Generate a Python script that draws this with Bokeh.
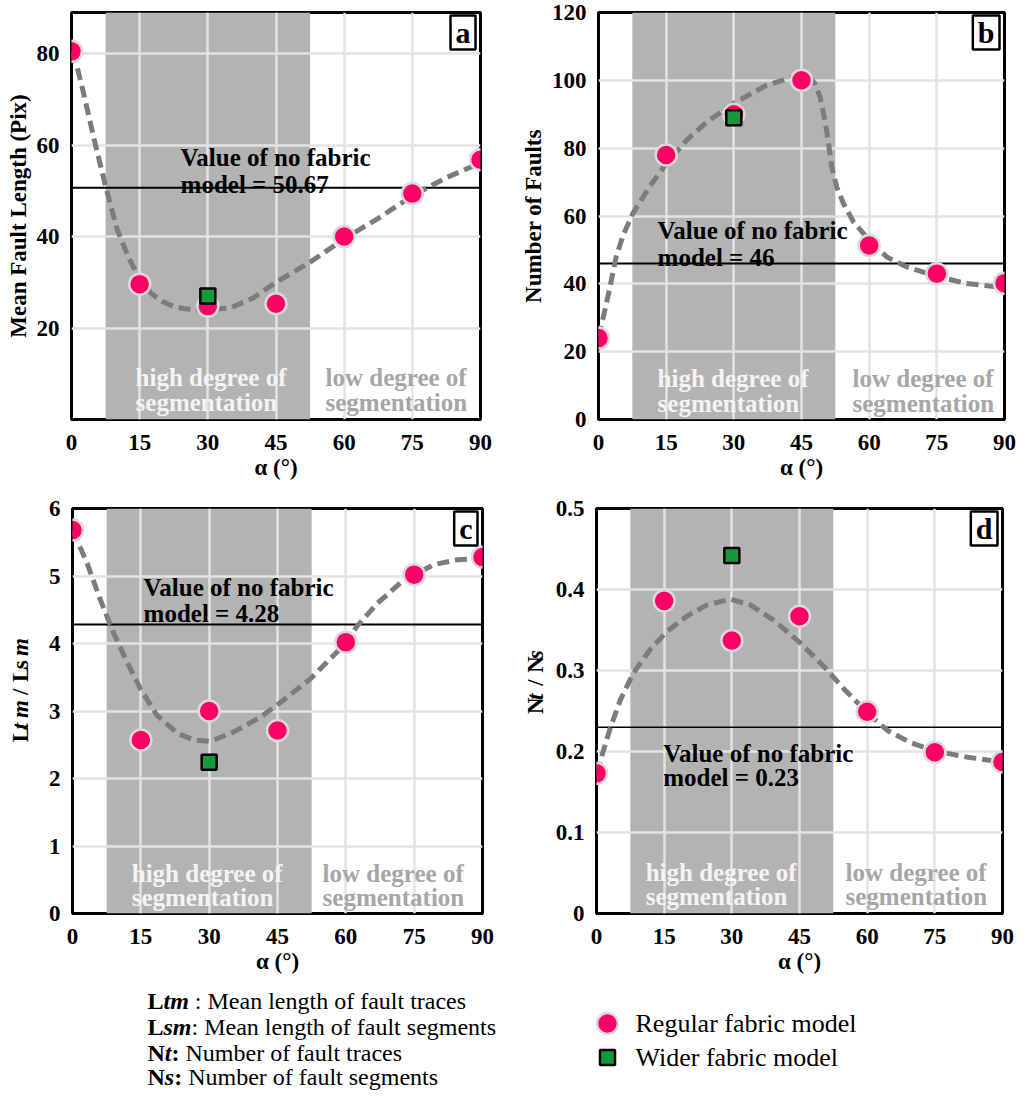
import math
from bokeh.plotting import figure
from bokeh.models import Range1d, FixedTicker, Span, Label, NumeralTickFormatter
from bokeh.layouts import column, row
from bokeh.embed import file_html
from bokeh.resources import INLINE
from bokeh.core.properties import value

# ---------------- data ----------------
alpha = [0, 15, 30, 45, 60, 75, 90]
alpha_ticks = [0, 15, 30, 45, 60, 75, 90]
band = [7.5, 52.5]          # high degree of segmentation zone
wider_alpha = [30]

# (a) mean fault length
len_regular = [80.5, 29.6, 24.8, 25.3, 40.0, 49.4, 56.8]
len_wider = [27.0]
len_nofabric = 50.67
len_curve_x = [0, 1.25, 2.5, 5, 7.5, 10, 12.5, 15, 17.5, 20, 22.5, 25, 27.5, 30, 35, 40, 45, 52.5, 60, 67.5, 75, 82.5, 90]
len_curve_y = [80.5, 77, 72, 61.2, 51, 41.7, 35.5, 30.8, 27.6, 25.8, 24.7, 24.2, 24.0, 24.0, 24.4, 26.6, 30.0, 34.4, 39.5, 44.0, 48.9, 52.9, 56.1]

# (b) number of faults
num_regular = [24.0, 78.0, 90.0, 100.0, 51.3, 43.0, 40.2]
num_wider = [89.0]
num_nofabric = 46
num_curve_x = [0, 1.2, 2.4, 3.9, 5.5, 7.6, 11.3, 15, 19.5, 24, 29.8, 37.2, 43.2, 46.5, 48, 49.1, 50.2, 50.9, 51.7, 52.8, 54.3, 56.5, 59.4, 63.9, 68.3, 75, 81.6, 90]
num_curve_y = [24.2, 31, 38.1, 47.9, 54.5, 60.7, 68.6, 75.4, 82.3, 87.7, 93.1, 98.5, 101, 101.2, 99, 95.1, 88.2, 82.3, 74.5, 68.6, 63.7, 58.3, 53.8, 47.9, 45, 42.2, 40.1, 38.9]

# (c) Ltm / Lsm
ratio_l_regular = [5.68, 2.57, 3.0, 2.71, 4.02, 5.02, 5.28]
ratio_l_wider = [2.24]
ratio_l_nofabric = 4.28
ratio_l_curve_x = [0, 3.2, 6.1, 9, 12, 14.9, 18.5, 23, 26.6, 30.3, 35.4, 41.3, 45.7, 52.3, 60, 62.5, 67, 72, 75, 79.4, 84.5, 90]
ratio_l_curve_y = [5.68, 5.19, 4.65, 4.16, 3.72, 3.33, 2.94, 2.67, 2.57, 2.55, 2.69, 2.91, 3.13, 3.48, 4.01, 4.26, 4.6, 4.9, 5.02, 5.17, 5.24, 5.26]

# (d) Nt / Ns
ratio_n_regular = [0.173, 0.386, 0.337, 0.367, 0.249, 0.199, 0.187]
ratio_n_wider = [0.442]
ratio_n_nofabric = 0.23
ratio_n_curve_x = [0, 3, 5.3, 8.2, 11.9, 15.6, 20, 24.5, 29.7, 34.1, 39.3, 45.2, 50.4, 54.9, 60, 64.5, 69.6, 74.8, 82.2, 90]
ratio_n_curve_y = [0.173, 0.228, 0.264, 0.297, 0.326, 0.348, 0.367, 0.381, 0.388, 0.381, 0.362, 0.334, 0.305, 0.277, 0.248, 0.226, 0.211, 0.201, 0.193, 0.187]

FONT = "Liberation Serif"
PINK = "#ff0066"
GREEN = "#139a3c"
BAND = "#b3b3b3"
GRID = "#e3e3e3"
AXFS = 23


def panel(width, height, borders, ymax, yticks, ylabel, letter,
          xs, regular, wider, nofab, nofab_text, cx, cy,
          vtext_pos, high_pos, low_pos, span_w=2, yfmt=None):
    bl, br, bt, bb = borders
    p = figure(width=width, height=height, title=None,
               x_range=Range1d(0, 90), y_range=Range1d(0, ymax),
               output_backend="svg", toolbar_location=None,
               min_border_left=bl, min_border_right=br,
               min_border_top=bt, min_border_bottom=bb)
    p.background_fill_color = "white"
    p.border_fill_color = "white"
    p.outline_line_color = "black"
    p.outline_line_width = 3
    p.xaxis.ticker = FixedTicker(ticks=alpha_ticks)
    p.yaxis.ticker = FixedTicker(ticks=yticks)
    if yfmt is not None:
        p.yaxis.formatter = yfmt
    for ax in p.axis:
        ax.axis_line_color = None
        ax.major_tick_line_color = None
        ax.minor_tick_line_color = None
        ax.major_label_text_font = FONT
        ax.major_label_text_font_style = "bold"
        ax.major_label_text_font_size = "%dpx" % AXFS
        ax.major_label_text_color = "black"
        ax.axis_label_text_font = FONT
        ax.axis_label_text_font_style = "bold"
        ax.axis_label_text_font_size = "%dpx" % AXFS
        ax.axis_label_text_color = "black"
    p.xaxis.major_label_standoff = 9
    p.yaxis.major_label_standoff = 6
    p.xaxis.axis_label = "α (°)"
    p.xaxis.axis_label_standoff = 2
    if ylabel:
        p.yaxis.axis_label = ylabel
        p.yaxis.axis_label_standoff = 3
    p.grid.grid_line_color = GRID
    p.grid.grid_line_width = 2.5

    p.quad(left=[band[0]], right=[band[1]], bottom=[0], top=[ymax],
           fill_color=BAND, line_color=None, level="image")

    p.add_layout(Span(location=nofab, dimension="width", line_color="black",
                      line_width=span_w, level="underlay"))

    p.line(cx, cy, line_color="#7c7c7c", line_width=5, line_dash="12 6")
    p.scatter(xs, regular, size=21, fill_color=PINK, line_color="#dadada", line_width=2.5)
    p.scatter(wider_alpha, wider, marker="square", size=15, fill_color=GREEN,
              line_color="black", line_width=2.5)

    def lab(x, y, text, color="black", size="25px"):
        p.add_layout(Label(x=x, y=y, text=text, text_font=FONT, text_font_style="bold",
                           text_font_size=size, text_color=color,
                           text_align="left", text_baseline="alphabetic"))

    vx, vy1, vy2 = vtext_pos
    lab(vx, vy1, "Value of no fabric")
    lab(vx, vy2, "model = " + nofab_text)
    hx, hy1, hy2 = high_pos
    lab(hx, hy1, "high degree of", color="#f4f4f4")
    lab(hx, hy2, "segmentation", color="#f4f4f4")
    lx = low_pos
    lab(lx, hy1, "low degree of", color="#a6a6a6")
    lab(lx, hy2, "segmentation", color="#a6a6a6")

    p.add_layout(Label(x=90, y=ymax, x_offset=-5, y_offset=-3, text=letter,
                       text_font=FONT, text_font_style="bold", text_font_size="30px",
                       text_align="right", text_baseline="top", text_color="black",
                       background_fill_color="white", border_line_color="black",
                       border_line_width=2.5, padding=(5, 5, 0, 1)))
    return p


def label_strip(width, height, xc, y0, pieces):
    """narrow figure holding a rotated y-axis title with mixed upright/italic parts"""
    s = figure(width=width, height=height, title=None, x_range=Range1d(0, width),
               y_range=Range1d(0, height), output_backend="svg", toolbar_location=None,
               min_border=0)
    s.axis.visible = False
    s.grid.visible = False
    s.outline_line_color = None
    s.background_fill_color = "white"
    s.border_fill_color = "white"
    ycur = y0
    for txt, style, adv in pieces:
        if txt.strip():
            s.text(x=[xc], y=[ycur], text=[txt], angle=math.pi / 2, text_font=value(FONT),
                   text_font_style=style, text_font_size="%dpx" % AXFS, text_color="black",
                   text_align="left", text_baseline="middle")
        ycur += adv * AXFS
    return s


ylab_c_parts = [("L", "bold", 0.667), ("t", "bold italic", 0.3), (" ", "bold", 0.3),
                ("m", "bold italic", 0.8), (" ", "bold", 0.4), ("/", "bold", 0.278),
                (" ", "bold", 0.4), ("L", "bold", 0.667), ("s", "bold", 0.389),
                (" ", "bold", 0.3), ("m", "bold italic", 0.778)]
ylab_d_parts = [("N", "bold", 0.722), ("t", "bold italic", 0.3), (" ", "bold", 0.45),
                ("/", "bold", 0.278), (" ", "bold", 0.4), ("N", "bold", 0.722),
                ("s", "bold italic", 0.389)]

pa = panel(508, 489, (71, 28, 12, 70), 89, [20, 40, 60, 80], "Mean Fault Length (Pix)", "a",
           alpha, len_regular, len_wider, len_nofabric, "50.67", len_curve_x, len_curve_y,
           (24, 57.4, 51.3), (14.1, 9.2, 3.7), 55.9)
pb = panel(512, 489, (90, 16, 12, 70), 120, [0, 20, 40, 60, 80, 100, 120], "Number of Faults", "b",
           alpha, num_regular, num_wider, num_nofabric, "46", num_curve_x, num_curve_y,
           (13.1, 55.7, 47.8), (13.1, 12.1, 4.7), 56.3)

sc = label_strip(40, 487, 20, 206, ylab_c_parts)
pc = panel(468, 487, (32, 26, 16, 62), 6, [0, 1, 2, 3, 4, 5, 6], None, "c",
           alpha, ratio_l_regular, ratio_l_wider, ratio_l_nofabric, "4.28", ratio_l_curve_x, ratio_l_curve_y,
           (15.6, 4.83, 4.44), (13.0, 0.6, 0.235), 54.9)
sd = label_strip(42, 487, 27, 240, ylab_d_parts)
pd = panel(470, 487, (46, 18, 19, 59), 0.5, [0, 0.1, 0.2, 0.3, 0.4, 0.5], None, "d",
           alpha, ratio_n_regular, ratio_n_wider, ratio_n_nofabric, "0.23", ratio_n_curve_x, ratio_n_curve_y,
           (14.8, 0.198, 0.168), (10.9, 0.051, 0.021), 55.2, span_w=1.6,
           yfmt=NumeralTickFormatter(format="0.[0]"))

# ---------------- legend / notes ----------------
LW, LH = 1020, 118
pl = figure(width=LW, height=LH, title=None, x_range=Range1d(0, LW), y_range=Range1d(LH, 0),
            output_backend="svg", toolbar_location=None, min_border=0)
pl.axis.visible = False
pl.grid.visible = False
pl.outline_line_color = None
pl.background_fill_color = "white"
pl.border_fill_color = "white"

FS = 24
em = FS
note_rows = [24, 50, 76, 100]
note_x0 = 147
# (text, style, advance in em after the piece)
note_parts = [
    [("L", "bold", 0.667), ("tm", "bold italic", 1.056 + 0.25), (": Mean length of fault traces", "normal", 0)],
    [("L", "bold", 0.667), ("sm", "bold italic", 1.167), (": Mean length of fault segments", "normal", 0)],
    [("N", "bold", 0.722), ("t", "bold italic", 0.278), (":", "bold", 0.333 + 0.25), ("Number of fault traces", "normal", 0)],
    [("N", "bold", 0.722), ("s", "bold italic", 0.389), (":", "bold", 0.333 + 0.25), ("Number of fault segments", "normal", 0)],
]
for yrow, parts in zip(note_rows, note_parts):
    xcur = note_x0
    for txt, style, adv in parts:
        pl.text(x=[xcur], y=[yrow], text=[txt], text_font=value(FONT), text_font_style=style,
                text_font_size="%dpx" % FS, text_color="black", text_align="left",
                text_baseline="middle")
        xcur += adv * em

legend_labels = ["Regular fabric model", "Wider fabric model"]
legend_y = [47, 81]
pl.scatter([607], [legend_y[0]], size=21, fill_color=PINK, line_color="#dadada", line_width=2.5)
pl.scatter([607], [legend_y[1]], marker="square", size=15, fill_color=GREEN,
           line_color="black", line_width=2.5)
pl.text(x=[635, 635], y=legend_y, text=legend_labels, text_font=value(FONT),
        text_font_size="26px", text_color="black", text_align="left", text_baseline="middle")

layout = column(row(pa, pb), row(sc, pc, sd, pd), pl)
open("out.html", "w").write(file_html(layout, INLINE))
